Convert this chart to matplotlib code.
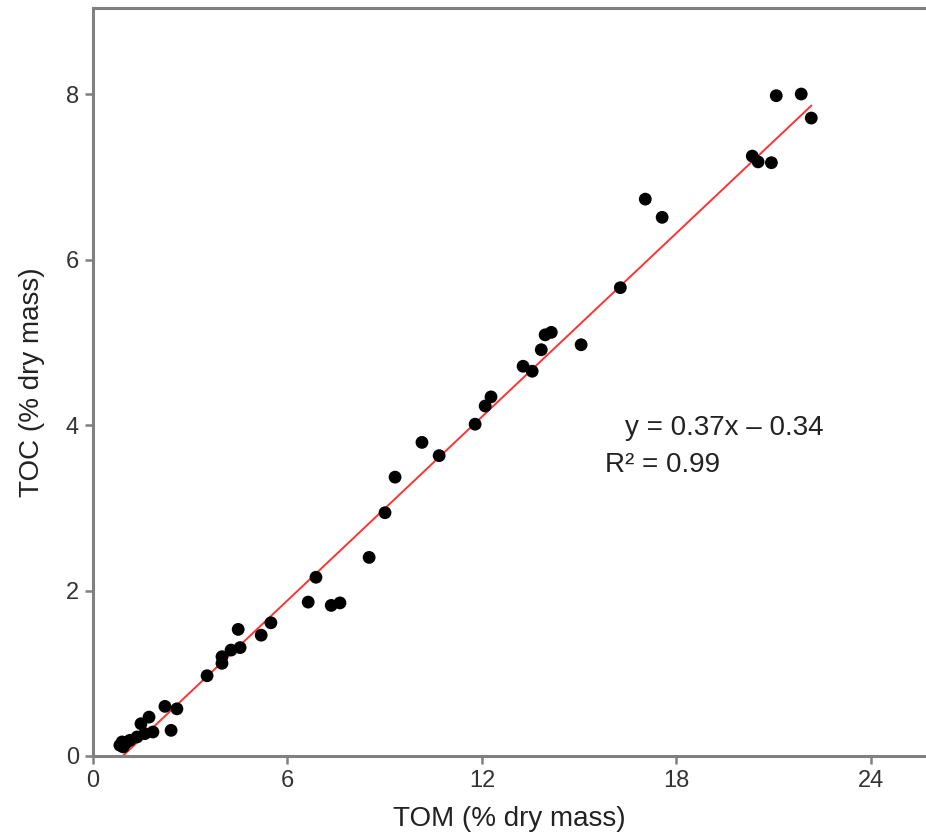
import matplotlib
matplotlib.use('Agg')
import matplotlib.pyplot as plt

plt.rcParams['font.family'] = ['Liberation Sans', 'DejaVu Sans']

# TOM vs TOC
tom = [21.08, 21.85, 22.16, 20.34, 20.52, 20.93, 17.04, 17.56, 16.27, 15.06,
       14.14, 13.95, 13.83, 13.55, 13.27, 12.28, 12.10, 11.79, 10.15, 10.68,
       9.32, 9.01, 8.52, 6.88, 6.64, 7.35, 7.62, 4.48, 5.19, 5.49,
       4.54, 4.26, 3.98, 3.98, 3.52, 2.22, 2.59, 1.73, 1.48, 2.41,
       1.85, 1.60, 1.36, 1.14, 0.90, 0.83, 0.93, 1.02]
toc = [7.98, 8.00, 7.71, 7.25, 7.18, 7.17, 6.73, 6.51, 5.66, 4.97,
       5.12, 5.09, 4.91, 4.65, 4.71, 4.34, 4.23, 4.01, 3.79, 3.63,
       3.37, 2.94, 2.40, 2.16, 1.86, 1.82, 1.85, 1.53, 1.46, 1.61,
       1.31, 1.28, 1.20, 1.12, 0.97, 0.60, 0.57, 0.47, 0.39, 0.31,
       0.29, 0.27, 0.23, 0.19, 0.17, 0.13, 0.11, 0.16]

slope, intercept = 0.37, -0.34
x_ticks = [0, 6, 12, 18, 24]
y_ticks = [0, 2, 4, 6, 8]

fig = plt.figure(figsize=(9.26, 8.4), dpi=100)
ax = fig.add_axes([0.1004, 0.1, 0.8996, 0.8905])

ax.scatter(tom, toc, s=85, c='black', edgecolors='none', zorder=3)

# regression line
x0 = -intercept / slope
x1 = max(tom)
ax.plot([x0, x1], [slope * x0 + intercept, slope * x1 + intercept],
        color='#ff3333', lw=1.4, zorder=2)

ax.text(16.4, 3.97, 'y = 0.37x \u2013 0.34', fontsize=20, color='#222222', va='center')
ax.text(15.8, 3.52, 'R\u00b2 = 0.99', fontsize=20, color='#222222', va='center')

ax.set_xlim(0, 25.7)
ax.set_ylim(0, 9.04)
ax.set_xticks(x_ticks)
ax.set_yticks(y_ticks)

for side in ['left', 'bottom', 'top']:
    ax.spines[side].set_color('#808080')
    ax.spines[side].set_linewidth(2.2)
ax.spines['right'].set_visible(False)

ax.tick_params(direction='out', length=6, width=1.8, color='#808080',
               labelsize=17, labelcolor='#333333', pad=4)

ax.set_xlabel('TOM (% dry mass)', fontsize=20, color='#222222', labelpad=10)
ax.set_ylabel('TOC (% dry mass)', fontsize=20, color='#222222', labelpad=15)

fig.savefig('out.png', dpi=100)
